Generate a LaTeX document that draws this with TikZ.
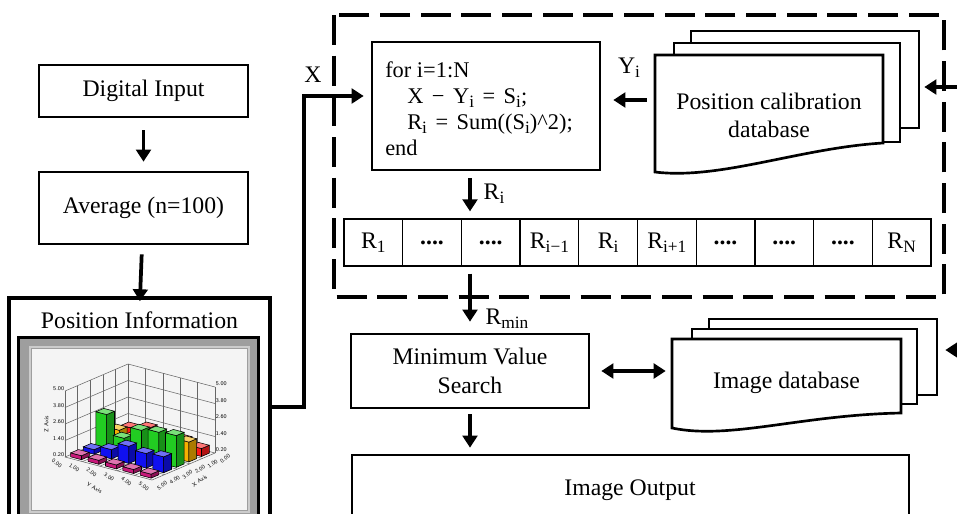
\documentclass[tikz,border=0pt]{standalone}
\usepackage{fontspec}
\setmainfont{Liberation Serif}
\usetikzlibrary{arrows.meta}
\newcommand\sub[1]{\raisebox{-3.2pt}{\fontsize{13}{13}\selectfont #1}}
\newcommand\op[1]{\hspace{0.38em}#1\hspace{0.38em}}
\newcommand\fdots{\textbf{....}}
\newcommand\mainfs{\fontsize{17.8}{21.5}\selectfont}
\newcommand\codefs{\fontsize{16.8}{19.5}\selectfont}
\newcommand\tinyfs{\fontsize{4.3}{4.6}\selectfont\sffamily}
\definecolor{cred}{HTML}{FF1A1A}
\definecolor{corange}{HTML}{F5B000}
\definecolor{cgreen}{HTML}{22CC22}
\definecolor{cblue}{HTML}{1010F0}
\definecolor{cmag}{HTML}{C8187A}
\definecolor{plotbg}{HTML}{F4F4F4}
\tikzset{
  box/.style={draw, line width=2pt, fill=white, inner sep=0pt, font=\mainfs, align=center},
  arr/.style={line width=2.8pt, -{Triangle[length=9pt,width=11pt]}},
  dblarr/.style={line width=2.8pt, {Triangle[length=9pt,width=11pt]}-{Triangle[length=9pt,width=11pt]}},
  page/.style={draw, line width=2pt, fill=white, inner sep=0pt},
  cell/.style={draw, line width=0.9pt, minimum width=44pt, minimum height=35.25pt, inner sep=0pt, font=\mainfs},
  dashbox/.style={line width=3pt, dash pattern=on 22.5pt off 8pt},
  lbl/.style={font=\mainfs, inner sep=0pt, align=center},
  gridc/.style={draw=black!60, line width=0.4pt},
  barline/.style={draw=black, line width=0.4pt},
  ticklbl/.style={font=\tinyfs, inner sep=0.5pt},
}
\newcommand\chartbar[4]{%
  \pgfmathsetmacro\ua{#1+0.19}%
  \pgfmathsetmacro\ub{#1+0.81}%
  \pgfmathsetmacro\va{#2+0.19}%
  \pgfmathsetmacro\vb{#2+0.81}%
  \filldraw[barline, fill=#4] (\ua,\va,0) -- (\ub,\va,0) -- (\ub,\va,#3) -- (\ua,\va,#3) -- cycle;
  \filldraw[barline, fill=#4!70!black] (\ub,\va,0) -- (\ub,\vb,0) -- (\ub,\vb,#3) -- (\ub,\va,#3) -- cycle;
  \filldraw[barline, fill=#4!60!white] (\ua,\va,#3) -- (\ub,\va,#3) -- (\ub,\vb,#3) -- (\ua,\vb,#3) -- cycle;
}
\begin{document}
\begin{tikzpicture}[x=0.75pt,y=-0.75pt]
\useasboundingbox (0,0) rectangle (957,514);
\clip (0,0) rectangle (957,514);
\fill[white] (0,0) rectangle (957,514);

% dashed region
\draw[dashbox] (334,15) rectangle (944,297);

% left column
\node[box, minimum width=156.75pt, minimum height=39pt] (dig) at (143.5,91) {Digital Input};
\node[box, minimum width=156.75pt, minimum height=54pt] (avg) at (143.5,208) {Average (n=100)};
\node[box, line width=2.3pt, minimum width=195.75pt, minimum height=181.5pt] (pos) at (139.5,419) {};
\node[lbl] (postitle) at (139.5,320) {Position Information};

% chart picture
\fill[black] (17,336) rectangle (260,530);
\fill[black!38] (20,339) rectangle (257,530);
\draw[black!20, line width=0.8pt] (30,347) rectangle (249,512);
\fill[plotbg] (32,349) rectangle (247,510);
\begin{scope}[shift={(65,457)}]
\begin{scope}[x={(13.05pt,-3.45pt)}, y={(9.45pt,4.05pt)}, z={(0pt,9.9pt)}]
  \foreach \k in {0,1,2,3,4,5} {
    \draw[gridc] (\k,0,0) -- (\k,5,0);
    \draw[gridc] (0,\k,0) -- (5,\k,0);
    \draw[gridc] (0,\k,0) -- (0,\k,5);
    \draw[gridc] (\k,5,0) -- (\k,5,5);
  }
  \foreach \k in {1.25,2.5,3.75,5} {
    \draw[gridc] (0,0,\k) -- (0,5,\k);
    \draw[gridc] (0,5,\k) -- (5,5,\k);
  }
  \foreach \i/\j/\h/\c in {
    0/4/0.75/cred, 1/4/1.1/cred, 2/4/0.8/cred, 3/4/0.9/cred, 4/4/0.6/cred,
    0/3/1.0/corange, 1/3/0.85/corange, 2/3/1.0/corange, 3/3/0.9/corange, 4/3/1.5/corange,
    0/2/2.6/cgreen, 1/2/1.15/cgreen, 2/2/2.1/cgreen, 3/2/2.3/cgreen, 4/2/2.4/cgreen,
    0/1/0.35/cblue, 1/1/0.7/cblue, 2/1/1.3/cblue, 3/1/1.1/cblue, 4/1/1.2/cblue,
    0/0/0.3/cmag, 1/0/0.3/cmag, 2/0/0.3/cmag, 3/0/0.3/cmag, 4/0/0.3/cmag}
    {\chartbar{\i}{\j}{\h}{\c}}
  \foreach \k/\t in {0/0.20,1/1.40,2/2.60,3/3.80,4/5.00} {
    \node[ticklbl, anchor=east] at ([yshift=1.5pt]0,0,\k*1.25) {\t};
    \node[ticklbl, anchor=west] at ([yshift=2.5pt]5,5,\k*1.25) {\t};
  }
  \foreach \k in {0,1,2,3,4,5} {
    \node[ticklbl, anchor=north east, rotate=-35] at ([shift={(-1pt,-5.5pt)}]\k,0,0) {\k.00};
    \node[ticklbl, anchor=north west, rotate=35] at ([shift={(2.5pt,-5pt)}]5,5-\k,0) {\k.00};
  }
  \node[ticklbl, rotate=-30] at ([shift={(-8pt,-15pt)}]2.3,0,0) {Y Axis};
  \node[ticklbl, rotate=35] at ([shift={(14pt,-10pt)}]5,2.3,0) {X Axis};
  \node[ticklbl, rotate=90] at ([shift={(-14pt,0pt)}]0,0,2.5) {Z Axis};
\end{scope}
\end{scope}

% left arrows
\draw[arr, shorten <=9pt, shorten >=6.75pt] (dig) -- (avg);
\draw[arr, shorten <=6.75pt, shorten >=7.5pt] (avg) -- (pos.north |- postitle.north) ;

% for loop box
\node[box, minimum width=171pt, minimum height=96pt] (for) at (486,106) {};
\node[font=\codefs, inner sep=0pt, anchor=west, align=left] (code) at (385,108.5)
  {for i=1:N\\
   \hspace*{16.5pt}X\op{−}Y\sub{i}\op{=}S\sub{i};\\
   \hspace*{16.5pt}R\sub{i}\op{=}Sum((S\sub{i})\textasciicircum 2);\\
   end};

% X connector
\coordinate (xrow) at (0,407);
\coordinate (xturn) at (304,96);
\node[lbl] (xlbl) at (313,75) {X};
\draw[arr, shorten >=5.25pt] (pos.east |- xrow) -| (xturn) -- (xturn -| for.west);

% position calibration database
\node[page, minimum width=171pt, minimum height=72.75pt] (cal3) at (805,79.5) {};
\node[page, minimum width=169.5pt, minimum height=74.25pt] (cal2) at (787,92.5) {};
\filldraw[page] (655,55) -- (883,55) -- (883,143) .. controls (800,148) and (720,180) .. (655,172) -- cycle;
\node[lbl, minimum width=171pt] (cal) at (769,115.5) {Position calibration\\database};
\coordinate (yrow) at (0,100);
\draw[arr, shorten <=6pt, shorten >=9pt] (cal.west |- yrow) -- (for.east |- yrow);
\node[lbl] (ylbl) at (629,68) {Y\sub{i}};
\coordinate (cin) at (957,87);
\draw[arr, shorten >=3pt] (cin) -- (cin -| cal3.east);

% array of R values
\foreach \k/\t in {1/R\sub{1}, 2/\fdots, 3/\fdots, 4/R\sub{i−1}, 5/R\sub{i}, 6/R\sub{i+1}, 7/\fdots, 8/\fdots, 9/\fdots, 10/R\sub{N}}
  \node[cell] (c\k) at ({344+58.7*(\k-0.5)},242.5) {\t};
\coordinate (acol) at (470,0);
\draw[arr, shorten <=5.25pt, shorten >=5.25pt] (for.south -| acol) -- (acol |- c3.north);
\node[lbl] (rilbl) at (494,194) {R\sub{i}};

% minimum value search
\node[box, minimum width=178.5pt, minimum height=55.5pt] (min) at (470,371) {Minimum Value\\Search};
\draw[arr, shorten <=5.25pt, shorten >=8.25pt] (acol |- c3.south) -- (acol |- min.north);
\node[lbl] (rminlbl) at (507,319) {R\sub{min}};

% image database
\node[page, minimum width=171pt, minimum height=57pt] (img3) at (823,357) {};
\node[page, minimum width=168.75pt, minimum height=56.25pt] (img2) at (804.5,366.5) {};
\filldraw[page] (672,339) -- (901,339) -- (901,413) .. controls (800,415) and (730,440) .. (672,428) -- cycle;
\node[lbl, minimum width=171.75pt] (img) at (786.5,383) {Image database};
\draw[dblarr, shorten <=8.25pt, shorten >=4.5pt] (min.east) -- (img.west |- min.east);
\coordinate (iin) at (957,350);
\draw[arr, shorten >=5.25pt] (iin) -- (iin -| img3.east);

% image output
\node[box, minimum width=417.75pt, minimum height=63.75pt] (out) at (630.5,497.5) {};
\node[lbl] (outlbl) at (630,490) {Image Output};
\draw[arr, shorten <=3.75pt, shorten >=4.5pt] (min.south) -- (min.south |- out.north);
\end{tikzpicture}
\end{document}
